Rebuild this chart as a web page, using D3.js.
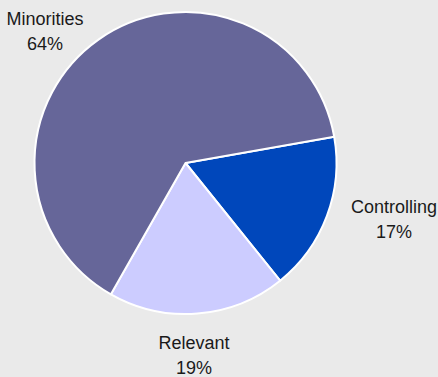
<!DOCTYPE html>
<html>
<head>
<meta charset="utf-8">
<script src="https://cdn.jsdelivr.net/npm/d3@7"></script>
<style>
  body { margin: 0; background: #eaeaea; }
  svg { display: block; }
  text { font-family: "Liberation Sans", Arial, sans-serif; font-size: 18px; fill: #1a1a1a; }
</style>
</head>
<body>
<svg></svg>
<script>
const labels = ["Controlling", "Relevant", "Minorities"];
const shares = [17, 19, 64];
const colors = ["#0047bb", "#ccccff", "#666699"];
// label anchor points (centre x, first baseline)
const labelX = [394, 194, 45];
const labelY = [213, 349, 25];

const width = 438;
const height = 377;
const cx = 185.5;
const cy = 163;
const radius = 151;
const startAt = 80 * Math.PI / 180;

const svg = d3.select('svg')
    .attr('width', width)
    .attr('height', height);

svg.append('rect')
    .attr('width', width)
    .attr('height', height)
    .attr('fill', '#eaeaea');

const pie = d3.pie()
    .sort(null)
    .startAngle(startAt)
    .endAngle(startAt + 2 * Math.PI);

const arc = d3.arc()
    .innerRadius(0)
    .outerRadius(radius);

const graph = svg.append('g')
    .attr('transform', 'translate(' + cx + ',' + cy + ')');

graph.selectAll('path')
    .data(pie(shares))
    .enter().append('path')
    .attr('d', arc)
    .attr('fill', (d, i) => colors[i])
    .attr('stroke', '#fff')
    .attr('stroke-width', 2)
    .attr('stroke-linejoin', 'round');

const lbl = svg.selectAll('text.lbl')
    .data(labels)
    .enter().append('text')
    .attr('class', 'lbl')
    .attr('text-anchor', 'middle')
    .attr('x', (d, i) => labelX[i])
    .attr('y', (d, i) => labelY[i]);

lbl.append('tspan')
    .attr('x', (d, i) => labelX[i])
    .text(d => d);

lbl.append('tspan')
    .attr('x', (d, i) => labelX[i])
    .attr('dy', 24.5)
    .text((d, i) => shares[i] + '%');
</script>
</body>
</html>
